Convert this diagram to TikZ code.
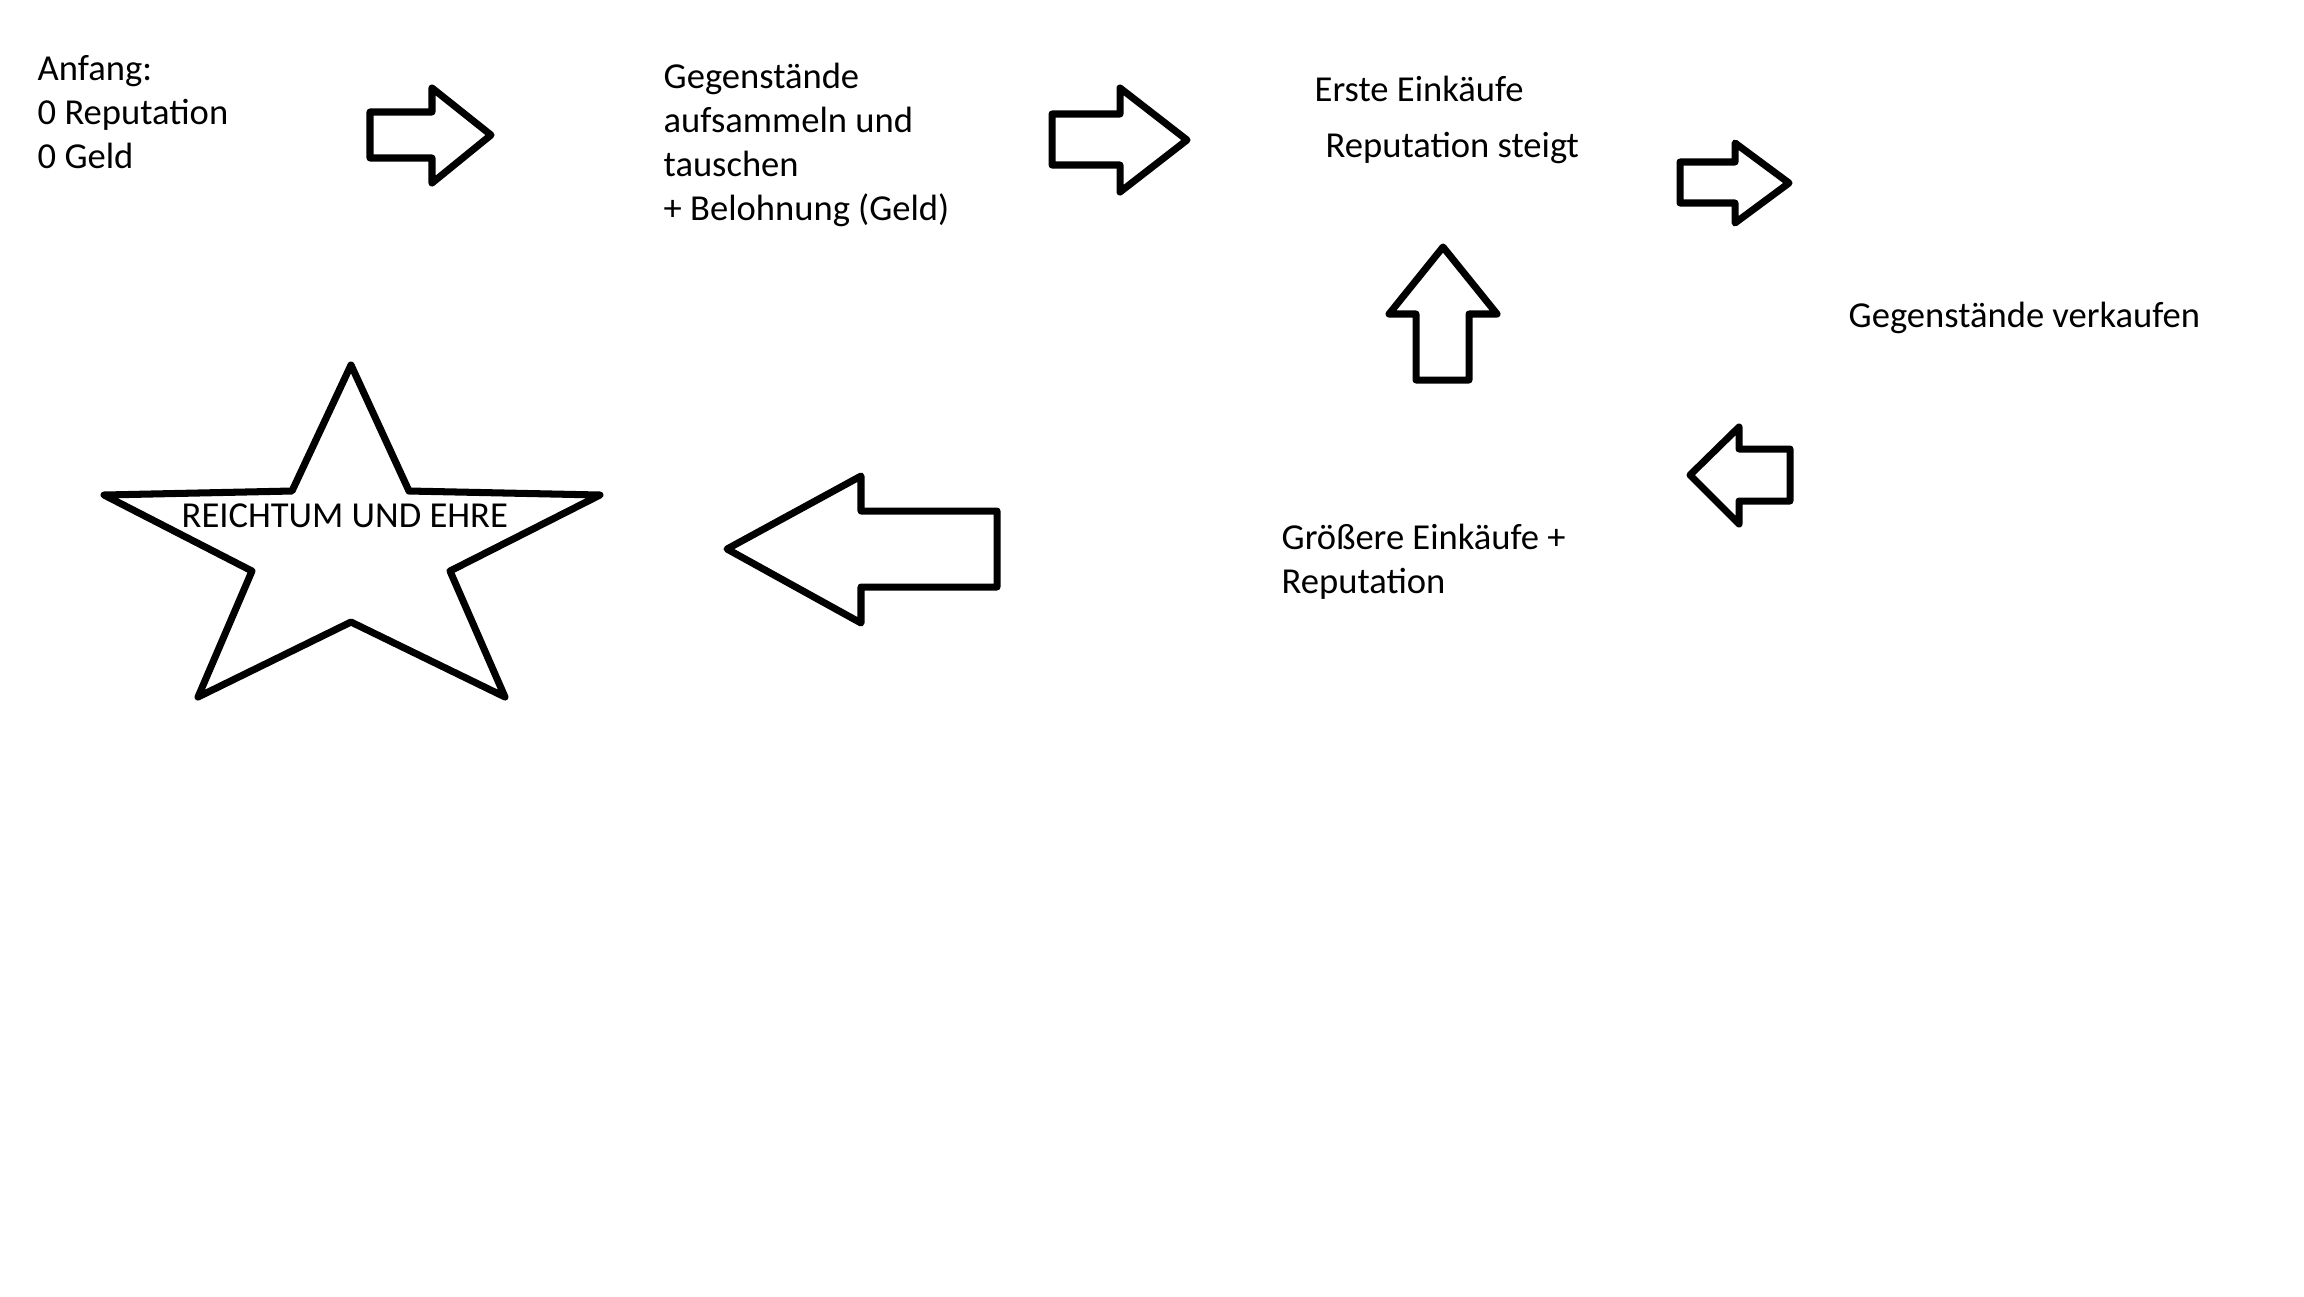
\documentclass[tikz,border=0pt]{standalone}
\usepackage{fontspec}
\setmainfont{Carlito}
\usepackage{tikz}
\usetikzlibrary{positioning}

\begin{document}
\begin{tikzpicture}[x=0.01cm,y=-0.01cm,
    stage/.style={inner sep=0pt, anchor=base west, align=left, font=\fontsize{10.4}{12.5}\selectfont},
    blockarrow/.style={draw=black, fill=white, line width=2pt, line join=round}]
        \useasboundingbox (0,0) rectangle (2304,1296);
        % texts (multi-line nodes sit on the baseline of their last line)
        \node[stage] (anfang) at (37,168) {Anfang:\\0 Reputation\\0 Geld};
        \node[stage] (sammeln) at (663,220) {Gegenstände\\aufsammeln und\\tauschen\\+ Belohnung (Geld)};
        \node[stage] (erste) at (1314,101) {Erste Einkäufe};
        \node[stage] (steigt) at (1325,157) {Reputation steigt};
        \node[stage] (verkaufen) at (1848,327) {Gegenstände verkaufen};
        \node[stage] (groesser) at (1281,593) {Größere Einkäufe +\\Reputation};
        % the star
        \draw[blockarrow] (351,365) -- (409,491) -- (600,495) -- (450,571) -- (505,697)
            -- (351,622) -- (198,697) -- (252,571) -- (104,495) -- (292,491) -- cycle;
        \node[stage] (reichtum) at (181,527) {REICHTUM UND EHRE};
        % arrows to the right
        \draw[blockarrow] (370,112) -- (432,112) -- (432,88) -- (491,135) -- (432,183) -- (432,158) -- (370,158) -- cycle;
        \draw[blockarrow] (1052,114) -- (1120,114) -- (1120,88) -- (1187,140) -- (1120,192) -- (1120,165) -- (1052,165) -- cycle;
        \draw[blockarrow] (1680,162) -- (1735,162) -- (1735,143) -- (1789,183) -- (1735,223) -- (1735,203) -- (1680,203) -- cycle;
        % arrow up
        \draw[blockarrow] (1416,380) -- (1416,314) -- (1389,314) -- (1443,247) -- (1497,314) -- (1469,314) -- (1469,380) -- cycle;
        % arrows to the left
        \draw[blockarrow] (1790,449) -- (1739,449) -- (1739,427) -- (1690,475) -- (1739,524) -- (1739,501) -- (1790,501) -- cycle;
        \draw[blockarrow] (997,511) -- (861,511) -- (861,476) -- (727,549) -- (861,623) -- (861,587) -- (997,587) -- cycle;
\end{tikzpicture}
\end{document}
